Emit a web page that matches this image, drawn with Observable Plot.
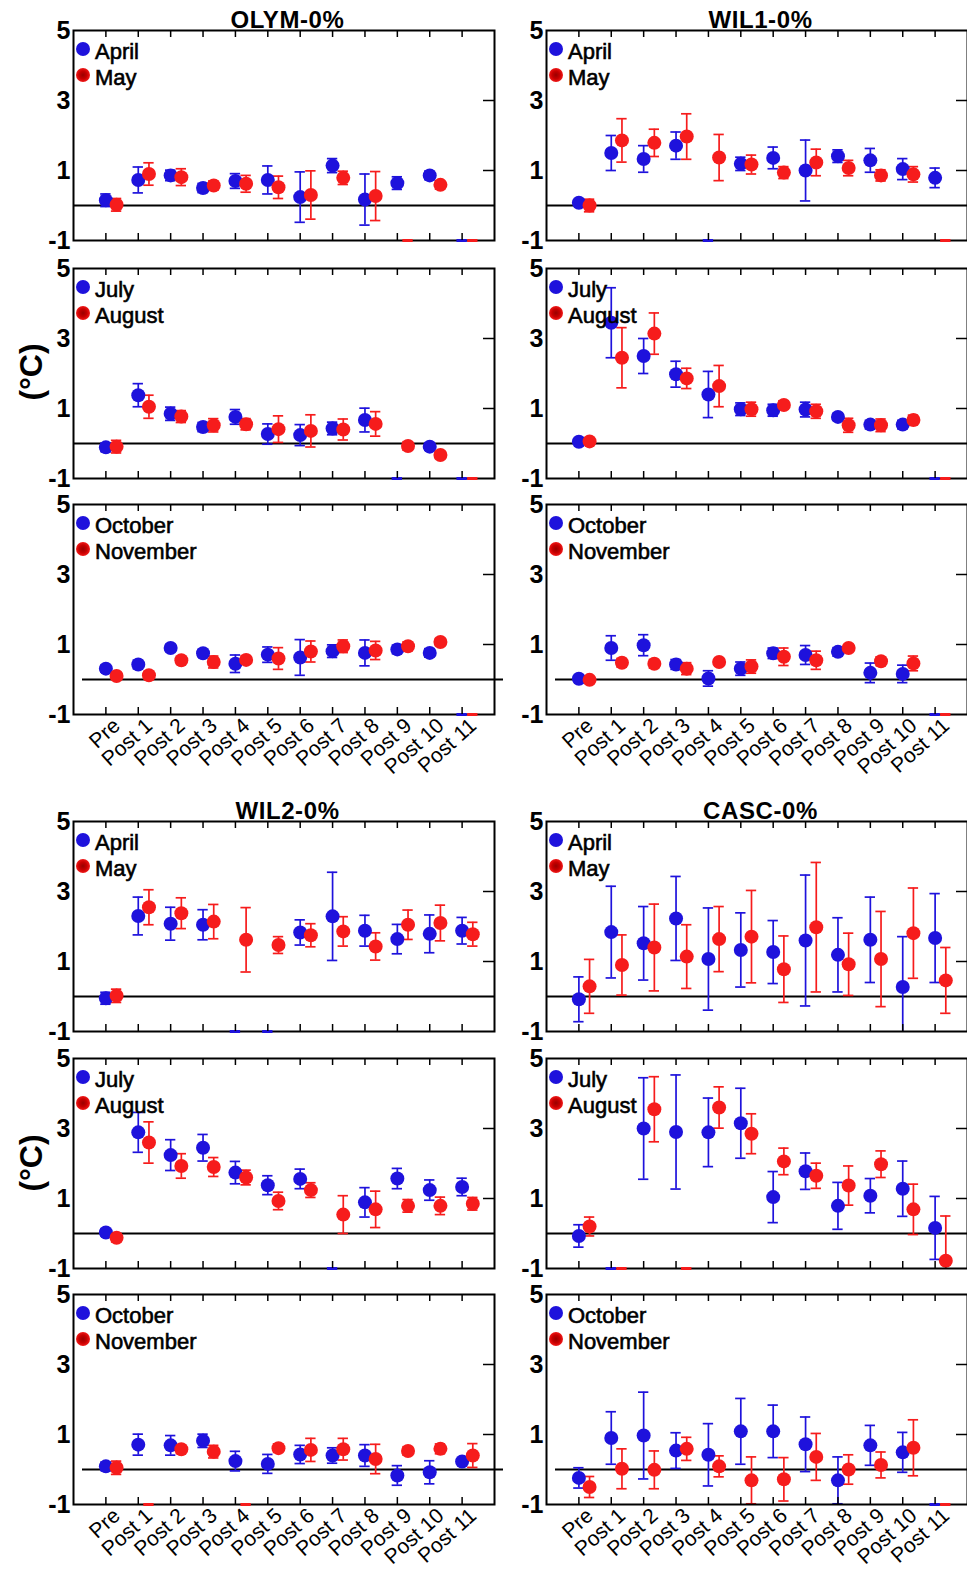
<!DOCTYPE html>
<html><head><meta charset="utf-8">
<script src="https://cdn.jsdelivr.net/npm/d3@7"></script>
<script src="https://cdn.jsdelivr.net/npm/@observablehq/plot@0.6"></script>
<style>
body{margin:0;background:#fff;}
#root{position:relative;width:967px;height:1572px;overflow:hidden;font-family:"Liberation Sans",Arial,sans-serif;background:#fff;}
.panel{position:absolute;}
.title{position:absolute;font-weight:bold;font-size:24px;letter-spacing:0.6px;line-height:1;transform:translateX(-50%);white-space:nowrap;color:#000;}
.legtext{position:absolute;font-size:22px;line-height:1;white-space:nowrap;color:#000;-webkit-text-stroke:0.6px #000;}
.legdot{position:absolute;width:14px;height:14px;border-radius:50%;transform:translate(-50%,-50%);}
.ylab{position:absolute;font-weight:bold;font-size:32px;line-height:1;white-space:nowrap;transform:translate(-50%,-50%) rotate(-90deg);}
</style>
</head><body><div id="root"></div>
<script>
// ---------- data ----------
const categories = ["Pre","Post 1","Post 2","Post 3","Post 4","Post 5","Post 6","Post 7","Post 8","Post 9","Post 10","Post 11"];
const yTicks = [-1, 1, 3, 5];
const groupTitles = ["OLYM-0%", "WIL1-0%", "WIL2-0%", "CASC-0%"];
const monthPairs = [["April","May"],["July","August"],["October","November"]];

// OLYM
const olymApr   = [0.15,0.73,0.86,0.50,0.70,0.73,0.24,1.14,0.17,0.64,0.86,null];
const olymAprSE = [0.18,0.37,0.15,0.13,0.21,0.40,0.72,0.20,0.73,0.18,0.12,null];
const olymMay   = [0.02,0.90,0.81,0.57,0.62,0.52,0.30,0.79,0.27,null,0.59,null];
const olymMaySE = [0.18,0.32,0.24,0.13,0.24,0.32,0.69,0.19,0.70,null,0.12,null];
const olymJul   = [-0.11,1.38,0.85,0.47,0.76,0.27,0.24,0.43,0.67,null,-0.09,null];
const olymJulSE = [0.12,0.33,0.19,0.13,0.21,0.29,0.30,0.18,0.34,null,0.10,null];
const olymAug   = [-0.09,1.05,0.77,0.52,0.55,0.41,0.36,0.40,0.56,-0.07,-0.33,null];
const olymAugSE = [0.18,0.33,0.17,0.19,0.16,0.38,0.46,0.30,0.35,0.12,0.10,null];
const olymOct   = [0.31,0.43,0.90,0.75,0.45,0.71,0.63,0.81,0.76,0.86,0.76,null];
const olymOctSE = [0.10,0.12,0.10,0.10,0.25,0.22,0.51,0.18,0.37,0.12,0.12,null];
const olymNov   = [0.10,0.12,0.55,0.50,0.56,0.60,0.80,0.95,0.83,0.95,1.07,null];
const olymNovSE = [0.10,0.10,0.10,0.17,0.12,0.31,0.30,0.18,0.26,0.12,0.10,null];
// WIL1
const wil1Apr   = [0.08,1.50,1.33,1.71,null,1.19,1.36,1.00,1.41,1.29,1.04,0.79];
const wil1AprSE = [0.08,0.50,0.38,0.39,null,0.19,0.31,0.87,0.18,0.34,0.30,0.28];
const wil1May   = [0.00,1.86,1.79,1.97,1.37,1.17,0.94,1.23,1.07,0.86,0.89,null];
const wil1MaySE = [0.18,0.62,0.39,0.65,0.66,0.27,0.17,0.38,0.22,0.16,0.22,null];
const wil1Jul   = [0.05,3.45,2.50,1.98,1.40,0.98,0.95,0.97,0.76,0.54,0.54,null];
const wil1JulSE = [0.06,1.00,0.50,0.37,0.66,0.18,0.17,0.21,0.10,0.12,0.12,null];
const wil1Aug   = [0.06,2.45,3.14,1.86,1.64,0.98,1.10,0.92,0.52,0.52,0.67,null];
const wil1AugSE = [0.06,0.86,0.59,0.29,0.59,0.20,0.12,0.20,0.20,0.18,0.14,null];
const wil1Oct   = [0.02,0.90,0.98,0.43,0.03,0.31,0.75,0.70,0.79,0.19,0.16,null];
const wil1OctSE = [0.08,0.35,0.30,0.14,0.22,0.19,0.15,0.27,0.12,0.28,0.25,null];
const wil1Nov   = [-0.01,0.48,0.45,0.31,0.50,0.37,0.65,0.55,0.90,0.52,0.46,null];
const wil1NovSE = [0.08,0.12,0.12,0.17,0.06,0.19,0.25,0.26,0.06,0.12,0.21,null];
// WIL2
const wil2Apr   = [-0.05,2.30,2.08,2.05,null,null,1.83,2.29,1.88,1.64,1.79,1.88];
const wil2AprSE = [0.17,0.54,0.47,0.43,null,null,0.36,1.26,0.44,0.42,0.54,0.38];
const wil2May   = [0.02,2.55,2.38,2.14,1.62,1.47,1.75,1.86,1.43,2.05,2.10,1.78];
const wil2MaySE = [0.19,0.50,0.44,0.49,0.92,0.24,0.33,0.42,0.39,0.42,0.51,0.34];
const wil2Jul   = [0.03,2.89,2.24,2.45,1.74,1.38,1.56,null,0.89,1.57,1.24,1.33];
const wil2JulSE = [0.10,0.57,0.44,0.38,0.32,0.27,0.28,null,0.42,0.29,0.29,0.25];
const wil2Aug   = [-0.12,2.60,1.93,1.90,1.60,0.93,1.24,0.54,0.69,0.79,0.79,0.85];
const wil2AugSE = [0.12,0.59,0.35,0.27,0.21,0.25,0.21,0.54,0.52,0.18,0.25,0.18];
const wil2Oct   = [0.09,0.71,0.69,0.82,0.24,0.16,0.43,0.40,0.40,-0.17,-0.08,0.23];
const wil2OctSE = [0.12,0.30,0.28,0.19,0.28,0.27,0.26,0.22,0.31,0.28,0.33,0.06];
const wil2Nov   = [0.05,null,0.58,0.51,null,0.61,0.56,0.58,0.30,0.53,0.59,0.40];
const wil2NovSE = [0.19,null,0.12,0.18,null,0.12,0.33,0.31,0.42,0.12,0.14,0.34];
// CASC
const cascApr   = [-0.08,1.84,1.52,2.23,1.07,1.33,1.27,1.60,1.19,1.62,0.27,1.67];
const cascAprSE = [0.64,1.31,1.05,1.20,1.46,1.06,0.90,1.87,1.06,1.22,1.44,1.27];
const cascMay   = [0.29,0.90,1.40,1.14,1.64,1.71,0.78,1.98,0.92,1.07,1.81,0.46];
const cascMaySE = [0.77,0.86,1.24,0.91,0.93,1.32,0.95,1.85,0.89,1.36,1.29,0.94];
const cascJul   = [-0.07,null,3.00,2.90,2.89,3.15,1.04,1.78,0.79,1.08,1.28,0.16];
const cascJulSE = [0.32,null,1.45,1.63,0.98,1.00,0.73,0.52,0.67,0.49,0.79,0.90];
const cascAug   = [0.20,null,3.55,null,3.60,2.85,2.06,1.65,1.37,1.98,0.69,-0.78];
const cascAugSE = [0.27,null,0.93,null,0.59,0.57,0.38,0.36,0.56,0.38,0.72,1.28];
const cascOct   = [-0.24,0.90,0.97,0.54,0.42,1.09,1.09,0.72,-0.31,0.69,0.49,null];
const cascOctSE = [0.29,0.75,1.24,0.51,0.89,0.94,0.75,0.78,0.67,0.57,0.57,null];
const cascNov   = [-0.50,0.02,-0.01,0.59,0.09,-0.31,-0.28,0.36,0.00,0.13,0.62,null];
const cascNovSE = [0.30,0.57,0.54,0.33,0.30,0.67,0.62,0.67,0.42,0.37,0.80,null];

// ---------- layout / style ----------
const BLUE = "#1e12dc", RED = "#f61c1c";
const FRAME_W = 421, FRAME_H = 210;
const ML = 46, MR = 12, MT = 12;
const colLeft = [73, 546];
const rowTop = [30, 268, 504, 821, 1058, 1294];
const OFFSET = 0.33, CAP = 0.16;

const panels = [
  {col:0,row:0,a:[olymApr,olymAprSE],b:[olymMay,olymMaySE],m:0},
  {col:0,row:1,a:[olymJul,olymJulSE],b:[olymAug,olymAugSE],m:1},
  {col:0,row:2,a:[olymOct,olymOctSE],b:[olymNov,olymNovSE],m:2},
  {col:1,row:0,a:[wil1Apr,wil1AprSE],b:[wil1May,wil1MaySE],m:0},
  {col:1,row:1,a:[wil1Jul,wil1JulSE],b:[wil1Aug,wil1AugSE],m:1},
  {col:1,row:2,a:[wil1Oct,wil1OctSE],b:[wil1Nov,wil1NovSE],m:2},
  {col:0,row:3,a:[wil2Apr,wil2AprSE],b:[wil2May,wil2MaySE],m:0},
  {col:0,row:4,a:[wil2Jul,wil2JulSE],b:[wil2Aug,wil2AugSE],m:1},
  {col:0,row:5,a:[wil2Oct,wil2OctSE],b:[wil2Nov,wil2NovSE],m:2},
  {col:1,row:3,a:[cascApr,cascAprSE],b:[cascMay,cascMaySE],m:0},
  {col:1,row:4,a:[cascJul,cascJulSE],b:[cascAug,cascAugSE],m:1},
  {col:1,row:5,a:[cascOct,cascOctSE],b:[cascNov,cascNovSE],m:2},
];

const root = document.getElementById("root");
const idx = categories.map((_, i) => i);
const yDomain = [yTicks[0], yTicks[yTicks.length - 1]];

function panelPlot(p) {
  const bottomRow = p.row === 2 || p.row === 5;
  const MB = bottomRow ? 64 : 12;
  const rows = [];
  categories.forEach((c, i) => {
    rows.push({i, x: i, v: p.a[0][i], e: p.a[1][i], color: BLUE});
    rows.push({i, x: i + OFFSET, v: p.b[0][i], e: p.b[1][i], color: RED});
  });
  const present = rows.filter(d => d.v != null);
  const missing = rows.filter(d => d.v == null);
  const marks = [
    Plot.ruleY([0], {stroke: "black", strokeWidth: 1.8, dx: bottomRow ? 9 : 0}),
    Plot.ruleX(present, {x: "x", y1: d => d.v - d.e, y2: d => d.v + d.e, stroke: "color", strokeWidth: 1.7, clip: true}),
    Plot.ruleY(present, {y: d => d.v + d.e, x1: d => d.x - CAP, x2: d => d.x + CAP, stroke: "color", strokeWidth: 1.7, clip: true}),
    Plot.ruleY(present, {y: d => d.v - d.e, x1: d => d.x - CAP, x2: d => d.x + CAP, stroke: "color", strokeWidth: 1.7, clip: true}),
    Plot.dot(present, {x: "x", y: "v", r: 7, fill: "color", stroke: "none"}),
    Plot.frame({stroke: "black", strokeWidth: 2}),
    Plot.ruleY(missing, {y: () => yDomain[0], x1: d => d.x - CAP, x2: d => d.x + CAP, stroke: "color", strokeWidth: 3}),
    Plot.tickX(idx, {x: d => d, insetBottom: FRAME_H - 7, stroke: "black", strokeWidth: 1.5}),
    Plot.tickX(idx, {x: d => d, insetTop: FRAME_H - 7, stroke: "black", strokeWidth: 1.5}),
    Plot.tickY(yTicks.slice(1, -1), {y: d => d, insetLeft: FRAME_W - 11, stroke: "black", strokeWidth: 1.5}),
    Plot.axisY(yTicks, {tickSize: 0, tickPadding: 3, tickFormat: d => String(d), fontSize: 25, fontWeight: "bold", stroke: "black", strokeWidth: 0.8, fill: "black", label: null})
  ];
  if (bottomRow) {
    marks.push(Plot.axisX(idx, {tickSize: 0, tickRotate: -42, tickPadding: 8, dx: 11, tickFormat: i => categories[i], fontSize: 21, fill: "black", stroke: "black", strokeWidth: 0.5, textAnchor: "end", label: null}));
  }
  return Plot.plot({
    width: ML + FRAME_W + MR,
    height: MT + FRAME_H + MB,
    marginLeft: ML, marginRight: MR, marginTop: MT, marginBottom: MB,
    x: {type: "linear", domain: [-1, categories.length], axis: null},
    y: {domain: yDomain, axis: null},
    color: {type: "identity"},
    style: {background: "transparent", overflow: "visible", fontFamily: "Liberation Sans, Arial, sans-serif", color: "black"},
    marks
  });
}

for (const p of panels) {
  const fl = colLeft[p.col], ft = rowTop[p.row];
  const div = document.createElement("div");
  div.className = "panel";
  const svg = panelPlot(p);
  div.style.left = (fl - ML) + "px";
  div.style.top = (ft - MT) + "px";
  div.style.width = svg.getAttribute("width") + "px";
  div.appendChild(svg);
  root.appendChild(div);

  // legend
  const [n1, n2] = monthPairs[p.m];
  [[n1, BLUE, 18.5, 29.5], [n2, RED, 44.5, 55.5]].forEach(([name, col, dy, base], k) => {
    const dot = document.createElement("div");
    dot.className = "legdot";
    dot.style.left = (fl + 10) + "px";
    dot.style.top = (ft + dy) + "px";
    dot.style.background = k === 0 ? col : "radial-gradient(circle at 50% 50%, #9a0000 0%, #c80000 40%, " + col + " 75%)";
    root.appendChild(dot);
    const t = document.createElement("div");
    t.className = "legtext";
    t.textContent = name;
    t.style.left = (fl + 22) + "px";
    t.style.top = (ft + base - 18.6) + "px";
    root.appendChild(t);
  });
}

// group titles
[[0,0,0],[1,1,0],[2,0,3],[3,1,3]].forEach(([g, col, row]) => {
  const t = document.createElement("div");
  t.className = "title";
  t.textContent = groupTitles[g];
  t.style.left = (colLeft[col] + FRAME_W / 2 + 4) + "px";
  t.style.top = (rowTop[row] - 22.5) + "px";
  root.appendChild(t);
});

// y-axis labels
[[0,2],[3,5]].forEach(([r0, r1]) => {
  const t = document.createElement("div");
  t.className = "ylab";
  t.textContent = "(°C)";
  t.style.left = "31px";
  t.style.top = ((rowTop[r0] + rowTop[r1] + FRAME_H) / 2) + "px";
  root.appendChild(t);
});
</script>
</body></html>
